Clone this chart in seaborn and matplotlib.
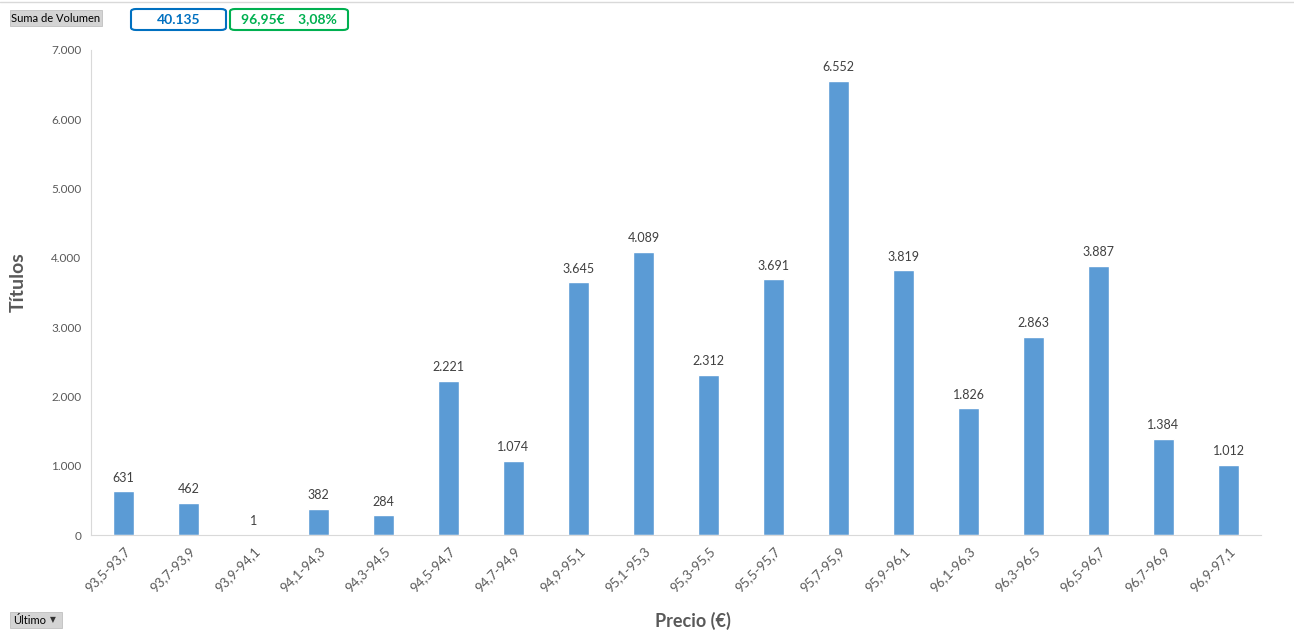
import pandas as pd
import matplotlib.pyplot as plt
import seaborn as sns
from matplotlib.patches import FancyBboxPatch, Rectangle

# ----------------------------------------------------------
# Data
# ----------------------------------------------------------

rangos = ["93,5-93,7", "93,7-93,9", "93,9-94,1", "94,1-94,3", "94,3-94,5",
          "94,5-94,7", "94,7-94,9", "94,9-95,1", "95,1-95,3", "95,3-95,5",
          "95,5-95,7", "95,7-95,9", "95,9-96,1", "96,1-96,3", "96,3-96,5",
          "96,5-96,7", "96,7-96,9", "96,9-97,1"]
volumen = [631, 462, 1, 382, 284, 2221, 1074, 3645, 4089, 2312,
           3691, 6552, 3819, 1826, 2863, 3887, 1384, 1012]
y_ticks = [0, 1000, 2000, 3000, 4000, 5000, 6000, 7000]

total_txt = "40.135"
precio_txt = "96,95€    3,08%"

df = pd.DataFrame({"Rango": rangos, "Volumen": volumen})

def miles(v):
    return f"{v:,.0f}".replace(",", ".")

# ----------------------------------------------------------
# Plot
# ----------------------------------------------------------

sns.set_style("white")
plt.rcParams["font.family"] = ["Lato", "DejaVu Sans"]

fig = plt.figure(figsize=(12.94, 6.36), dpi=100)
ax = fig.add_axes([91 / 1294, 1 - 535 / 636, 1170 / 1294, 485 / 636])

sns.barplot(data=df, x="Rango", y="Volumen", color="#5B9BD5",
            width=0.32, saturation=1, ax=ax)

ax.set_xlim(-0.5, len(rangos) - 0.5)
ax.set_ylim(0, 7000)
ax.set_yticks(y_ticks)
ax.set_yticklabels([miles(v) for v in y_ticks], fontsize=8.5, color="#595959")
ax.set_xticks(range(len(rangos)))
ax.set_xticklabels(rangos, rotation=45, ha="right", rotation_mode="anchor",
                   fontsize=9.5, color="#595959")
ax.tick_params(axis="both", length=0, pad=7)

for i, v in enumerate(volumen):
    ax.text(i, v + 110, miles(v), ha="center", va="bottom",
            fontsize=9, color="#404040")

for side in ["top", "right"]:
    ax.spines[side].set_visible(False)
ax.spines["left"].set_color("#D9D9D9")
ax.spines["bottom"].set_color("#D9D9D9")

ax.set_xlabel("")
ax.set_ylabel("")
fig.text(18 / 1294, 1 - 282 / 636, "Títulos", rotation=90, ha="center",
         va="center", fontsize=14, fontweight="bold", color="#595959")
fig.text(693 / 1294, 1 - 621 / 636, "Precio (€)", ha="center", va="center",
         fontsize=13, fontweight="bold", color="#595959")

# ----------------------------------------------------------
# Header / filter buttons
# ----------------------------------------------------------

def px(x, y):
    return x / 1294, 1 - y / 636

fig.add_artist(plt.Line2D([0, 1], [1 - 1.5 / 636] * 2, color="#D9D9D9", lw=1))

x0, y0 = px(10, 26)
fig.add_artist(Rectangle((x0, y0), 92 / 1294, 16 / 636, facecolor="#D4D4D4",
                         edgecolor="#C0C0C0", lw=0.6))
fig.text(56 / 1294, 1 - 18 / 636, "Suma de Volumen", ha="center", va="center",
         fontsize=8, color="#000000")

x0, y0 = px(131, 30)
fig.add_artist(FancyBboxPatch((x0, y0), 95 / 1294, 21 / 636,
                              boxstyle="round,pad=0,rounding_size=0.004",
                              facecolor="white", edgecolor="#0070C0", lw=1.5))
fig.text(178.5 / 1294, 1 - 19.5 / 636, total_txt, ha="center", va="center",
         fontsize=10, fontweight="bold", color="#0070C0")

x0, y0 = px(230, 30)
fig.add_artist(FancyBboxPatch((x0, y0), 118 / 1294, 21 / 636,
                              boxstyle="round,pad=0,rounding_size=0.004",
                              facecolor="white", edgecolor="#00B050", lw=1.5))
fig.text(289 / 1294, 1 - 19.5 / 636, precio_txt, ha="center", va="center",
         fontsize=10, fontweight="bold", color="#00B050")

x0, y0 = px(10, 628)
fig.add_artist(Rectangle((x0, y0), 52 / 1294, 16 / 636, facecolor="#D4D4D4",
                         edgecolor="#C0C0C0", lw=0.6))
fig.text(13 / 1294, 1 - 620 / 636, "Último", ha="left", va="center",
         fontsize=8, color="#000000")
fig.text(53 / 1294, 1 - 620 / 636, "▼", ha="center", va="center",
         fontsize=5.5, color="#333333", family=["DejaVu Sans"])

fig.savefig("out.png", dpi=100)
plt.close()
